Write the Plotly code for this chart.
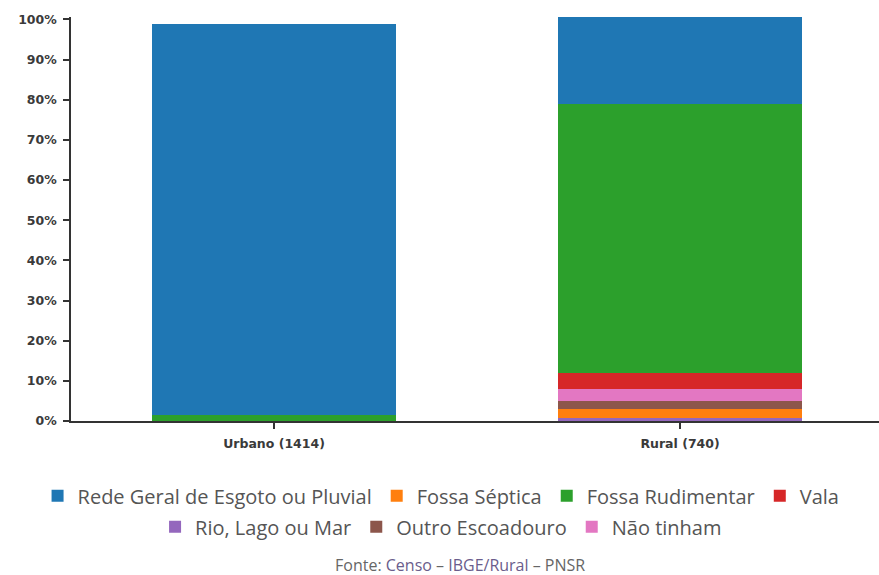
import plotly.graph_objects as go

# Domicílios por tipo de esgotamento sanitário (% por situação)
categorias = ["Urbano (1414)", "Rural (740)"]

# Séries na ordem de empilhamento (de baixo para cima)
series = [
    ("Rio, Lago ou Mar",               [0.0, 0.85],  "#9467bd", 5),
    ("Fossa Séptica",                  [0.0, 2.15],  "#ff7f0e", 2),
    ("Outro Escoadouro",               [0.0, 2.1],   "#8c564b", 6),
    ("Não tinham",                     [0.0, 2.75],  "#e377c2", 7),
    ("Vala",                           [0.0, 4.1],   "#d62728", 4),
    ("Fossa Rudimentar",               [1.6, 67.0],  "#2ca02c", 3),
    ("Rede Geral de Esgoto ou Pluvial", [97.2, 21.65], "#1f77b4", 1),
]

# Entradas da primeira linha da legenda; as demais vão na segunda
primeira_linha = {"Rede Geral de Esgoto ou Pluvial", "Fossa Séptica",
                  "Fossa Rudimentar", "Vala"}

ticks_y = list(range(0, 101, 10))
fonte = ("Fonte: <span style='color:#6a5d8c'>Censo</span> – "
         "<span style='color:#6a5d8c'>IBGE/Rural</span> – PNSR")

fig = go.Figure()
for nome, valores, cor, rank in series:
    fig.add_trace(go.Bar(
        x=[0, 1], y=valores, name=nome,
        marker=dict(color=cor, line=dict(width=0)),
        width=0.6,
        legend="legend" if nome in primeira_linha else "legend2",
        legendrank=rank,
        hovertemplate="%{y:.1f}%<extra>" + nome + "</extra>",
    ))

legenda_fonte = dict(family="Open Sans", size=20, color="#555555", weight="normal")
eixo_fonte = dict(family="DejaVu Sans", size=12.5, color="#3a3a3a", weight="bold")

fig.update_layout(
    width=879, height=575,
    margin=dict(l=71, r=0, t=17, b=154),
    barmode="stack",
    plot_bgcolor="white", paper_bgcolor="white",
    font=dict(family="Open Sans", size=13, color="#333333"),
    xaxis=dict(
        tickmode="array", tickvals=[0, 1], ticktext=categorias,
        range=[-0.5, 1.49],
        showline=True, linecolor="#333333", linewidth=1.5,
        ticks="outside", ticklen=6, tickcolor="#333333", tickwidth=1.5,
        showgrid=False, zeroline=False,
        tickfont=eixo_fonte, ticklabelstandoff=4,
        fixedrange=True,
    ),
    yaxis=dict(
        range=[0, 100.6], tickvals=ticks_y,
        ticktext=[f"{v}%" for v in ticks_y],
        showline=True, linecolor="#333333", linewidth=1.5,
        ticks="outside", ticklen=6, tickcolor="#333333", tickwidth=1.5,
        showgrid=False, zeroline=False,
        tickfont=eixo_fonte, ticklabelstandoff=4,
        fixedrange=True,
    ),
    legend=dict(
        orientation="h", x=0.458, xanchor="center", y=-0.185, yanchor="middle",
        font=legenda_fonte, traceorder="normal", bgcolor="rgba(0,0,0,0)",
        itemclick=False, itemdoubleclick=False,
    ),
    legend2=dict(
        orientation="h", x=0.458, xanchor="center", y=-0.262, yanchor="middle",
        font=legenda_fonte, traceorder="normal", bgcolor="rgba(0,0,0,0)",
        itemclick=False, itemdoubleclick=False,
    ),
    annotations=[dict(
        text=fonte, xref="paper", yref="paper", x=0.481, y=-0.356,
        xanchor="center", yanchor="middle", showarrow=False,
        font=dict(family="Open Sans", size=16, color="#666666", weight="normal"),
    )],
)

# Marcas de divisa entre as categorias no eixo x
fig.update_xaxes(tickson="boundaries")

fig.write_html("out.html")
